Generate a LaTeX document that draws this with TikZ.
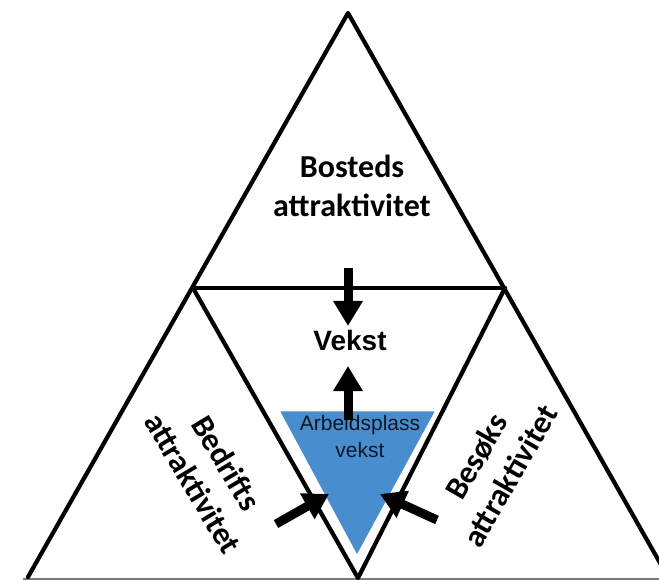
\documentclass[tikz,border=0pt]{standalone}
\usepackage{fontspec}
\setmainfont{Liberation Sans}
\newfontfamily\calib{Carlito}
\usetikzlibrary{arrows.meta}
\definecolor{bluefill}{RGB}{72,141,206}
\definecolor{basegray}{RGB}{120,120,120}
\begin{document}
\begin{tikzpicture}[x=1pt,y=-1pt,
  edge/.style={line width=4.2pt, line join=round, line cap=round},
  bigarrow/.style={line width=9pt, -{Triangle[width=28pt,length=25pt]}},
  bigtext/.style={font=\calib\bfseries\fontsize{32}{39}\selectfont, align=center, inner sep=0pt},
]
\useasboundingbox (0,0) rectangle (659,580);
\clip (0,0) rectangle (659,580);
\fill[white] (0,0) rectangle (659,580);
% outer triangle corners
\coordinate (A) at (348,13);
\coordinate (L) at (28,577);
\coordinate (R) at (668,577);
% inner triangle corners
\coordinate (HL) at (193,288);
\coordinate (HR) at (505,288);
\coordinate (V) at (358,578);
% blue triangle
\coordinate (BL) at (278,410);
\coordinate (BR) at (437,410);
\coordinate (BB) at (357,557);
\draw[basegray, line width=2pt] (23,579) -- (659,579);
\draw[edge] (L) -- (A) -- (R);
\draw[edge] (HL) -- (HR);
\draw[edge] (HL) -- (V) -- (HR);
\filldraw[fill=bluefill, draw=white, line width=2.5pt, line join=miter] (BL) -- (BR) -- (BB) -- cycle;
% texts
\node[bigtext] (bost) at (352,186) {Bosteds\\attraktivitet};
\node[font=\bfseries\fontsize{28}{32}\selectfont, inner sep=0pt] (vekst) at (350,340) {Vekst};
\node[font=\fontsize{21}{27}\selectfont, align=center, inner sep=0pt, text={rgb,255:red,20;green,22;blue,40}] (arb) at (360,436) {Arbeidsplass\\vekst};
\node[bigtext, rotate=-59] (bedr) at (210,473) {Bedrifts\\attraktivitet};
\node[bigtext, rotate=60] (besk) at (493,466) {Besøks\\attraktivitet};
% arrows
\coordinate (d1) at (348,268);
\coordinate (d2) at (348,326);
\coordinate (u1) at (348,420);
\coordinate (u2) at (348,366);
\coordinate (l1) at (276,524);
\coordinate (l2) at (329,494);
\coordinate (r1) at (437,520);
\coordinate (r2) at (380,494);
\draw[bigarrow] (d1) -- (d2);
\draw[bigarrow] (u1) -- (u2);
\draw[bigarrow] (l1) -- (l2);
\draw[bigarrow] (r1) -- (r2);
\end{tikzpicture}
\end{document}
